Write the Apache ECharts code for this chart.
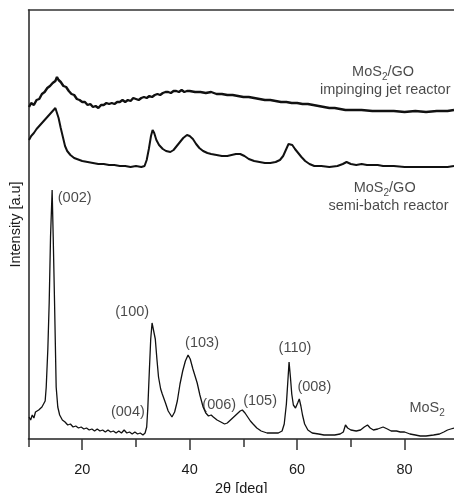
<!DOCTYPE html>
<html>
<head>
<meta charset="utf-8">
<script src="https://cdn.jsdelivr.net/npm/echarts@6/dist/echarts.min.js"></script>
<style>html,body{margin:0;padding:0;background:#fff}#c{width:454px;height:493px}</style>
</head>
<body>
<div id="c"></div>
<script>
// 2θ (deg) and intensity (a.u., arbitrary offsets as in the figure)
var jetX = [10.1,10.5,11.0,11.5,12.0,12.5,13.0,13.5,14.0,14.5,15.0,15.3,15.6,16.0,16.5,17.0,17.5,18.0,18.5,19.0,19.5,20.0,20.5,21.0,21.5,22.0,22.5,23.0,23.5,24.0,24.5,25.0,25.5,26.0,26.5,27.0,27.5,28.0,28.5,29.0,29.5,30.0,30.5,31.0,31.5,32.0,32.5,33.0,33.5,34.0,34.5,35.0,35.5,36.0,36.5,37.0,37.5,38.0,38.5,39.0,39.5,40.0,41,42,43,44,45,46,47,48,49,50,51,52,53,54,55,56,57,58,59,60,61,62,63,64,65,66,67,68,69,70,72,74,76,78,80,82,84,86,88,89.2];
var jetY = [332,336,334,339,340,345,347,351,353,356,358,362,359,357,353,352,348,345,344,340,339,337,337,334,335,332,333,331,334,334,336,335,336,335,337,337,339,337,339,338,341,340,339,341,342,341,343,342,344,345,344,346,347,347,346,348,348,347,349,347,348,348,347,347,346,347,345,345,344,344,343,342,342,341,340,339,339,338,337,337,336,336,335,335,334,333,332,331,331,330,329,329,329,328,328,328,327,328,327,328,328,329];

var semiX = [10.1,10.5,11.0,11.5,12.0,12.5,13.0,13.5,14.0,14.5,15.0,15.3,15.6,16.0,16.4,16.8,17.2,17.8,18.5,19.0,20,21,22,23,24,25,26,27,28,29,30,31,31.6,32.0,32.4,32.8,33.1,33.4,33.8,34.3,35.0,35.6,36.4,37.0,37.6,38.2,38.8,39.5,40.0,40.6,41.2,41.8,42.5,43.3,44.0,45.0,46.0,47.0,47.8,48.6,49.4,50.2,51.0,52.0,53.0,54.0,55.0,56.0,56.8,57.4,57.9,58.4,58.7,59.1,59.6,60.2,60.8,61.5,62.3,63.2,64.5,66.0,67.5,68.5,69.2,70,71,72,73,74,75,76,78,80,82,84,86,88,89.2];
var semiY = [299,303,306,310,313,316,319,322,325,328,331,329,321,311,302,293,288,284,281,280,278,277,276,275,275,274,274,273,273,272,273,272,273,279,290,303,309,306,299,294,290,288,287,289,293,297,301,304,303,300,295,291,288,286,285,284,283,283,284,285,285,283,280,278,277,276,276,277,279,283,289,295,297,294,290,286,282,278,275,273,273,272,273,275,277,275,274,275,274,274,274,273,273,272,272,272,272,272,273];

var mosX = [10.1,10.4,10.7,11.0,11.3,11.6,11.9,12.2,12.5,12.8,13.1,13.3,13.6,13.85,14.1,14.4,14.6,14.85,15.15,15.45,15.8,16.3,16.8,17.3,17.8,18.3,18.8,19.3,19.8,20.3,20.8,21.3,21.8,22.3,22.8,23.3,23.8,24.3,24.8,25.3,25.8,26.3,26.8,27.3,27.8,28.3,28.8,29.3,29.8,30.3,30.8,31.3,31.7,32.0,32.2,32.5,32.75,33.0,33.3,33.6,33.9,34.2,34.6,34.9,35.5,36.0,36.7,37.2,37.7,38.2,38.7,39.2,39.7,40.1,40.6,41.0,41.4,41.9,42.5,43.0,43.5,44.0,44.4,45.1,45.8,46.5,47.0,47.6,48.2,48.8,49.4,49.8,50.3,50.8,51.3,51.8,52.5,53.3,54.4,55.5,56.5,57.2,57.6,58.0,58.3,58.5,58.75,59.0,59.3,59.7,60.1,60.4,60.7,61.0,61.4,62.0,62.8,64,65,66,67,68,68.6,69.0,69.4,70.0,71.0,71.8,72.5,73.1,73.6,74.2,75.0,76.0,76.8,77.5,78.5,79.2,80.0,81,82,82.9,84,85.4,86.5,87.3,88.0,88.6,89.2];
var mosY = [22,19,24,21,27,25,29,28,32,33,38,52,90,136,202,249,202,136,52,32,24,19,17,14,15,12,13,11,12,10,11,9,10,8,10,8,9,7,9,7,8,6,8,6,9,6,7,5,7,5,6,4,6,12,30,69,100,116,108,100,80,62,50,45,36,28,22,27,38,55,68,78,84,80,70,63,56,44,32,26,23,24,22,19,17,15,16,19,22,25,28,29,26,22,18,15,11,8,6,6,6,8,15,35,60,77,62,45,34,31,36,40,33,24,15,9,6,5,4,4,4,5,7,14,11,9,8,9,12,14,11,9,10,12,10,8,8,7,7,5,4,3,3,4,5,7,9,10,11];

var majorTicks = [20, 40, 60, 80];
var minorTicks = [10, 30, 50, 70];

// annotations (text, 2θ, intensity)
var annoText = ['(002)','(100)','(103)','(110)','(008)','(006)','(105)','(004)','{a|MoS}{s|2}','{a|MoS}{s|2}{a|/GO}','impinging jet reactor','{a|MoS}{s|2}{a|/GO}','semi-batch reactor'];
var annoX = [18.6,29.3,42.3,59.6,63.2,45.5,53.1,28.5,84.2,76.0,76.4,76.3,77.0];
var annoY = [241,127,96,91,52,34,38,27,31,367,349,251,233];

function pairs(xs, ys){ return xs.map(function(x,i){ return [x, ys[i]]; }); }

var FONT = 'Liberation Sans, Arial, sans-serif';
var TXT = '#1a1a1a';
var rich = {
  a: {fontSize: 14.5, fontFamily: FONT, color: TXT, lineHeight: 20, verticalAlign: 'middle'},
  s: {fontSize: 10, fontFamily: FONT, color: TXT, lineHeight: 10, verticalAlign: 'bottom'}
};

var chart = echarts.init(document.getElementById('c'), null, {renderer: 'canvas'});
var lineBase = {type: 'line', showSymbol: false, symbol: 'none', animation: false, smooth: false};
chart.setOption({
  animation: false,
  grid: {left: 28.5, right: 0, top: 10, bottom: 54, containLabel: false, outerBoundsMode: 'none'},
  xAxis: [
    {type: 'value', min: 10, max: 89.2, position: 'bottom',
     axisLine: {show: true, lineStyle: {color: '#222', width: 1.5}},
     axisTick: {show: true, customValues: majorTicks, length: 11, lineStyle: {color: '#333', width: 1.5}},
     axisLabel: {show: true, customValues: majorTicks, fontSize: 14.5, fontFamily: FONT, color: TXT, margin: 23},
     splitLine: {show: false},
     name: '2θ [deg]', nameLocation: 'middle', nameGap: 37,
     nameTextStyle: {fontSize: 14.5, fontFamily: FONT, color: TXT}},
    {type: 'value', min: 10, max: 89.2, position: 'bottom',
     axisLine: {show: false},
     axisTick: {show: true, customValues: minorTicks, length: 8, lineStyle: {color: '#333', width: 1.5}},
     axisLabel: {show: false}, splitLine: {show: false}},
    {type: 'value', min: 10, max: 89.2, position: 'top',
     axisLine: {show: true, lineStyle: {color: '#333', width: 1.5}},
     axisTick: {show: false}, axisLabel: {show: false}, splitLine: {show: false}}
  ],
  yAxis: {type: 'value', min: 0, max: 429,
    axisLine: {show: true, lineStyle: {color: '#222', width: 1.5}},
    axisTick: {show: false}, axisLabel: {show: false}, splitLine: {show: false},
    name: 'Intensity [a.u]', nameLocation: 'middle', nameGap: 5,
    nameTextStyle: {fontSize: 14.5, fontFamily: FONT, color: TXT}},
  series: [
    Object.assign({}, lineBase, {name: 'jet', data: pairs(jetX, jetY), lineStyle: {color: '#111', width: 2.4}}),
    Object.assign({}, lineBase, {name: 'semi', data: pairs(semiX, semiY), lineStyle: {color: '#111', width: 2}}),
    Object.assign({}, lineBase, {name: 'mos', data: pairs(mosX, mosY), lineStyle: {color: '#111', width: 1.3}}),
    {type: 'scatter', animation: false, symbolSize: 1, itemStyle: {color: 'rgba(0,0,0,0)'}, silent: true,
     data: annoText.map(function(t,i){ return {value: [annoX[i], annoY[i]], text: t}; }),
     label: {show: true, position: 'inside', fontSize: 14.5, fontFamily: FONT, color: TXT,
       formatter: function(p){ return p.data.text.charAt(0) === '{' ? p.data.text : '{a|' + p.data.text + '}'; },
       rich: rich}}
  ]
});
</script>
</body>
</html>
